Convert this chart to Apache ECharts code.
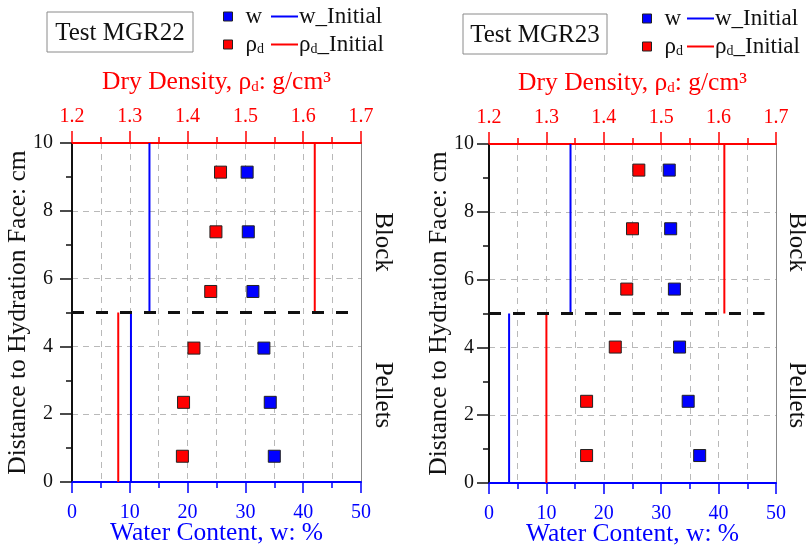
<!DOCTYPE html>
<html>
<head>
<meta charset="utf-8">
<script src="https://cdn.jsdelivr.net/npm/echarts@6/dist/echarts.min.js"></script>
<style>html,body{margin:0;padding:0;background:#fff}#c{width:806px;height:548px}</style>
</head>
<body>
<div id="c"></div>
<script>
// ---- data ----
const depth22 = [9.14, 7.38, 5.62, 3.95, 2.35, 0.76];
const w22     = [30.3, 30.5, 31.3, 33.2, 34.3, 35.0];
const rho22   = [1.457, 1.449, 1.440, 1.411, 1.393, 1.391];
const wInitial22   = [10.2, 13.4];   // [pellets, block]
const rhoInitial22 = [1.28, 1.62];

const depth23 = [9.23, 7.50, 5.72, 4.01, 2.41, 0.81];
const w23     = [31.4, 31.65, 32.3, 33.2, 34.7, 36.7];
const rho23   = [1.461, 1.450, 1.440, 1.420, 1.370, 1.370];
const wInitial23   = [3.5, 14.2];
const rhoInitial23 = [1.30, 1.61];

const interfaceDepth = 5;
const sampleLength = 10;
const interfaceEnd = 48;
const wTicks = [0, 50, 10];
const rhoTicks = [1.2, 1.7, 0.1];
const depthTicks = [0, 10, 2];
const titles = ['Test MGR22', 'Test MGR23'];

const FF = 'Liberation Serif';
const BLUE = '#0000ff', RED = '#ff0000', TXT = '#111';
const NAME_FS = 25.5, TICK_FS = 20;
const gridDash = {color: '#b9b9b9', type: [6, 5], width: 1};

const chart = echarts.init(document.getElementById('c'), null, {renderer: 'canvas'});

const grids = [
  {left: 72, top: 143, width: 289, height: 339, outerBoundsMode: 'none', containLabel: false},
  {left: 489, top: 144, width: 287, height: 339, outerBoundsMode: 'none', containLabel: false}
];
const yMargins = [19, 15];
const yNameGaps = [41, 37];

function xAxes(g) {
  return [
    {gridIndex: g, type: 'value', position: 'bottom', min: wTicks[0], max: wTicks[1], interval: wTicks[2],
      axisLine: {show: true, onZero: false, lineStyle: {color: BLUE, width: 2}},
      axisTick: {show: true, length: 11, lineStyle: {color: BLUE, width: 1.5}},
      minorTick: {show: true, splitNumber: 2, length: 6, lineStyle: {color: BLUE, width: 1.5}},
      axisLabel: {color: BLUE, fontSize: TICK_FS, fontFamily: FF, margin: 21},
      splitLine: {show: true, lineStyle: gridDash},
      minorSplitLine: {show: true, lineStyle: gridDash},
      name: 'Water Content, w: %', nameLocation: 'middle', nameGap: 38, nameMoveOverlap: false,
      nameTextStyle: {color: BLUE, fontSize: NAME_FS, fontFamily: FF}
    },
    {gridIndex: g, type: 'value', position: 'top', min: rhoTicks[0], max: rhoTicks[1], interval: rhoTicks[2],
      axisLine: {show: true, onZero: false, lineStyle: {color: RED, width: 2}},
      axisTick: {show: true, length: 12, lineStyle: {color: RED, width: 1.5}},
      minorTick: {show: true, splitNumber: 2, length: 6, lineStyle: {color: RED, width: 1.5}},
      axisLabel: {color: RED, fontSize: TICK_FS, fontFamily: FF, margin: 16, formatter: v => v.toFixed(1)},
      splitLine: {show: false},
      name: '{a|Dry Density, ρ}{b|d}{a|: g/cm³}', nameLocation: 'middle', nameGap: 48, nameMoveOverlap: false,
      nameTextStyle: {color: RED, fontSize: NAME_FS, fontFamily: FF,
        rich: {a: {color: RED, fontSize: NAME_FS, fontFamily: FF},
               b: {color: RED, fontSize: 15, fontFamily: FF, verticalAlign: 'bottom', lineHeight: 8}}}
    }
  ];
}
function yAxes(g) {
  return [
    {gridIndex: g, type: 'value', position: 'left', min: depthTicks[0], max: depthTicks[1], interval: depthTicks[2],
      axisLine: {show: true, onZero: false, lineStyle: {color: '#111', width: 2}},
      axisTick: {show: true, length: 12, lineStyle: {color: '#111', width: 1.5}},
      minorTick: {show: true, splitNumber: 2, length: 6, lineStyle: {color: '#111', width: 1.5}},
      axisLabel: {color: TXT, fontSize: TICK_FS, fontFamily: FF, margin: yMargins[g]},
      splitLine: {show: true, lineStyle: gridDash},
      name: 'Distance to Hydration Face: cm', nameLocation: 'middle', nameGap: yNameGaps[g], nameMoveOverlap: false,
      nameTextStyle: {color: TXT, fontSize: NAME_FS, fontFamily: FF}
    },
    {gridIndex: g, type: 'value', position: 'right', min: depthTicks[0], max: depthTicks[1],
      axisLine: {show: true, onZero: false, lineStyle: {color: '#888', width: 1}},
      axisTick: {show: false}, axisLabel: {show: false}, splitLine: {show: false}
    }
  ];
}

function plotSeries(g, depth, w, rho, wInit, rhoInit) {
  const xb = g * 2, xt = g * 2 + 1, y = g * 2;
  const sq = (color) => ({color: color, borderColor: '#222', borderWidth: 1, opacity: 1});
  const seg = (x, y0, y1) => [[x, y0], [x, y1]];
  const line = (name, xi, data, color) => ({
    name: name, type: 'line', xAxisIndex: xi, yAxisIndex: y, data: data,
    symbol: 'none', lineStyle: {color: color, width: 2}, itemStyle: {color: color}, z: 3
  });
  return [
    line('w_Initial', xb, seg(wInit[0], 0, interfaceDepth), BLUE),
    line('w_Initial', xb, seg(wInit[1], interfaceDepth, sampleLength), BLUE),
    line('ρd_Initial', xt, seg(rhoInit[0], 0, interfaceDepth), RED),
    line('ρd_Initial', xt, seg(rhoInit[1], interfaceDepth, sampleLength), RED),
    {name: 'interface', type: 'line', xAxisIndex: xb, yAxisIndex: y,
      data: [[0, interfaceDepth], [interfaceEnd, interfaceDepth]], symbol: 'none',
      lineStyle: {color: '#111', width: 3, type: [12, 12]}, z: 4},
    {name: 'w', type: 'scatter', xAxisIndex: xb, yAxisIndex: y, symbol: 'rect', symbolSize: 12,
      data: w.map((v, i) => [v, depth[i]]), itemStyle: sq(BLUE), z: 5},
    {name: 'ρd', type: 'scatter', xAxisIndex: xt, yAxisIndex: y, symbol: 'rect', symbolSize: 12,
      data: rho.map((v, i) => [v, depth[i]]), itemStyle: sq(RED), z: 5}
  ];
}

const LEG_FS = 23;
const legendRich = {
  r: {fontSize: LEG_FS, fontFamily: FF, color: TXT},
  s: {fontSize: 14, fontFamily: FF, color: TXT, verticalAlign: 'bottom', lineHeight: 8}
};
const legendFmt = (name) => name === 'ρd' ? '{r|ρ}{s|d}' : name === 'ρd_Initial' ? '{r|ρ}{s|d}{r|_Initial}' : name;
function legendItem(name, left, top, isLine, color) {
  return {
    left: left, top: top, padding: 0, itemGap: 0, selectedMode: false,
    itemWidth: isLine ? 27 : 9, itemHeight: isLine ? 2 : 9,
    formatter: legendFmt,
    textStyle: {fontSize: LEG_FS, fontFamily: FF, color: TXT, padding: isLine ? [0, 0, 0, -4] : [0, 0, 0, 8], rich: legendRich},
    data: [isLine
      ? {name: name, icon: 'path://M0,0H27V2H0Z', itemStyle: {color: color, borderWidth: 0}}
      : {name: name, icon: 'rect', itemStyle: {color: color, borderColor: '#222', borderWidth: 1, opacity: 1}}]
  };
}
const legLeft = [[223, 271], [642, 687]];
const legTop = [[5, 33], [7, 35]];
const legends = [];
[0, 1].forEach(g => {
  legends.push(legendItem('w', legLeft[g][0], legTop[g][0], false, BLUE));
  legends.push(legendItem('w_Initial', legLeft[g][1], legTop[g][0], true, BLUE));
  legends.push(legendItem('ρd', legLeft[g][0], legTop[g][1], false, RED));
  legends.push(legendItem('ρd_Initial', legLeft[g][1], legTop[g][1], true, RED));
});

const boxes = [{x: 47, y: 12, w: 146, h: 40}, {x: 463, y: 14, w: 144, h: 40}];
const sideLabelX = [383, 797];
const graphics = [];
const font25 = '25px "' + FF + '"';
[0, 1].forEach(g => {
  const b = boxes[g];
  graphics.push({type: 'rect', shape: {x: b.x, y: b.y, width: b.w, height: b.h},
    style: {fill: '#fff', stroke: '#8a8a8a', lineWidth: 1}, z: 10});
  graphics.push({type: 'text', x: b.x + b.w / 2, y: b.y + b.h / 2 + 1, z: 11,
    style: {text: titles[g], fill: TXT, font: font25, align: 'center', verticalAlign: 'middle'}});
  graphics.push({type: 'text', x: sideLabelX[g], y: 242, rotation: -Math.PI / 2, z: 11,
    style: {text: 'Block', fill: TXT, font: font25, align: 'center', verticalAlign: 'middle'}});
  graphics.push({type: 'text', x: sideLabelX[g], y: 395, rotation: -Math.PI / 2, z: 11,
    style: {text: 'Pellets', fill: TXT, font: font25, align: 'center', verticalAlign: 'middle'}});
});

chart.setOption({
  animation: false,
  backgroundColor: '#fff',
  grid: grids,
  xAxis: [...xAxes(0), ...xAxes(1)],
  yAxis: [...yAxes(0), ...yAxes(1)],
  legend: legends,
  graphic: graphics,
  series: [
    ...plotSeries(0, depth22, w22, rho22, wInitial22, rhoInitial22),
    ...plotSeries(1, depth23, w23, rho23, wInitial23, rhoInitial23)
  ]
});
</script>
</body>
</html>
